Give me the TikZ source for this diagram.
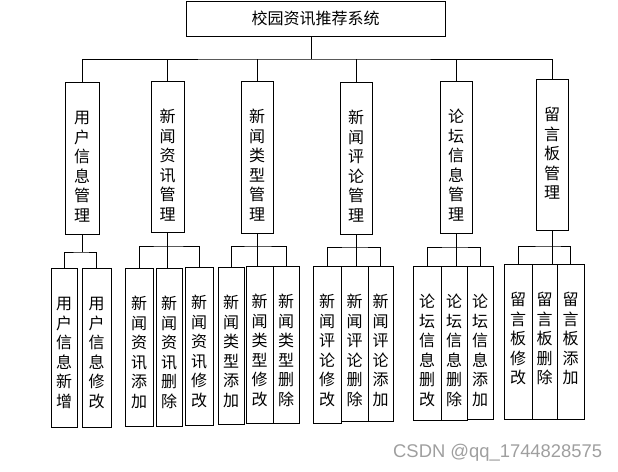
\documentclass[tikz,border=0pt]{standalone}
\usepackage{fontspec}
\newfontfamily\cjk{Noto Sans CJK SC}
\newfontfamily\markfont{Liberation Sans}
% one character per line, text starts near the top of the box
\newcommand\coltext[2]{\parbox[c][#1pt][t]{20pt}{\centering\rule{0pt}{41pt}#2}}
\tikzset{
  box/.style={draw, line width=1pt, inner sep=0pt, anchor=north,
    font=\cjk\fontsize{16}{19.5}\selectfont},
  link/.style={line width=1pt}
}
\begin{document}
\begin{tikzpicture}[x=1pt, y=-1pt]
\useasboundingbox (0,0) rectangle (618,471);
% system
\node [box, minimum width=259pt, minimum height=35pt] (sys) at (315.5,0.5) {校园资讯推荐系统};
% modules
\node [box, minimum width=34pt] (user) at (82,82) {\coltext{152}{用\\户\\信\\息\\管\\理}};
\node [box, minimum width=33pt] (news) at (167.5,81) {\coltext{151}{新\\闻\\资\\讯\\管\\理}};
\node [box, minimum width=32pt] (type) at (257,81) {\coltext{152}{新\\闻\\类\\型\\管\\理}};
\node [box, minimum width=32pt] (cmt) at (356,82) {\coltext{152}{新\\闻\\评\\论\\管\\理}};
\node [box, minimum width=32pt] (forum) at (456,81) {\coltext{152}{论\\坛\\信\\息\\管\\理}};
\node [box, minimum width=32pt] (board) at (552,79) {\coltext{151}{留\\言\\板\\管\\理}};
% functions
\node [box, minimum width=26pt] (user1) at (64,268) {\coltext{159}{用\\户\\信\\息\\新\\增}};
\node [box, minimum width=29pt] (user2) at (96.5,268) {\coltext{159}{用\\户\\信\\息\\修\\改}};
\node [box, minimum width=28pt] (news1) at (139,268) {\coltext{158}{新\\闻\\资\\讯\\添\\加}};
\node [box, minimum width=26pt] (news2) at (169,268) {\coltext{158}{新\\闻\\资\\讯\\删\\除}};
\node [box, minimum width=28pt] (news3) at (199,267) {\coltext{158}{新\\闻\\资\\讯\\修\\改}};
\node [box, minimum width=26pt] (type1) at (231,267) {\coltext{157}{新\\闻\\类\\型\\添\\加}};
\node [box, minimum width=27pt] (type2) at (259.5,266) {\coltext{157}{新\\闻\\类\\型\\修\\改}};
\node [box, minimum width=26pt] (type3) at (286,266) {\coltext{157}{新\\闻\\类\\型\\删\\除}};
\node [box, minimum width=28pt] (cmt1) at (327,266) {\coltext{157}{新\\闻\\评\\论\\修\\改}};
\node [box, minimum width=27pt] (cmt2) at (354.5,266) {\coltext{155}{新\\闻\\评\\论\\删\\除}};
\node [box, minimum width=25pt] (cmt3) at (380.5,266) {\coltext{155}{新\\闻\\评\\论\\添\\加}};
\node [box, minimum width=28pt] (forum1) at (427,266) {\coltext{154}{论\\坛\\信\\息\\删\\改}};
\node [box, minimum width=26pt] (forum2) at (454,266) {\coltext{154}{论\\坛\\信\\息\\删\\除}};
\node [box, minimum width=26pt] (forum3) at (480,266) {\coltext{153}{论\\坛\\信\\息\\添\\加}};
\node [box, minimum width=28pt] (board1) at (518,264) {\coltext{155}{留\\言\\板\\修\\改}};
\node [box, minimum width=25pt] (board2) at (544.5,264) {\coltext{155}{留\\言\\板\\删\\除}};
\node [box, minimum width=27pt] (board3) at (570.5,264) {\coltext{155}{留\\言\\板\\添\\加}};
% bus levels
\coordinate (bus) at (311,59);
\coordinate (userbus) at (82,252);
\coordinate (newsbus) at (167.5,246);
\coordinate (typebus) at (257,246);
\coordinate (cmtbus) at (356,247);
\coordinate (forumbus) at (456,247);
\coordinate (boardbus) at (552,246);
% links
\draw [link] (sys.south -| bus) -- (bus);
\draw [link] (user.north) |- (bus) -| (board.north);
\draw [link] (news.north) -- (news.north |- bus);
\draw [link] (type.north) -- (type.north |- bus);
\draw [link] (cmt.north) -- (cmt.north |- bus);
\draw [link] (forum.north) -- (forum.north |- bus);
\draw [link] (user.south) -- (userbus);
\draw [link] (user1.north) |- (userbus) -| (user2.north);
\draw [link] (news.south) -- (news.south |- news2.north);
\draw [link] (news1.north) |- (newsbus) -| (news3.north);
\draw [link] (type.south) -- (type.south |- type2.north);
\draw [link] (type1.north) |- (typebus) -| (type3.north);
\draw [link] (cmt.south) -- (cmt.south |- cmt2.north);
\draw [link] (cmt1.north) |- (cmtbus) -| (cmt3.north);
\draw [link] (forum.south) -- (forum.south |- forum2.north);
\draw [link] (forum1.north) |- (forumbus) -| (forum3.north);
\draw [link] (board.south) -- (board.south |- board2.north);
\draw [link] (board1.north) |- (boardbus) -| (board3.north);
% watermark
\node [anchor=base west, inner sep=0pt, text=gray!75, font=\markfont\fontsize{18.4}{20}\selectfont] (mark) at (393,457) {CSDN @qq\_1744828575};
\end{tikzpicture}
\end{document}
